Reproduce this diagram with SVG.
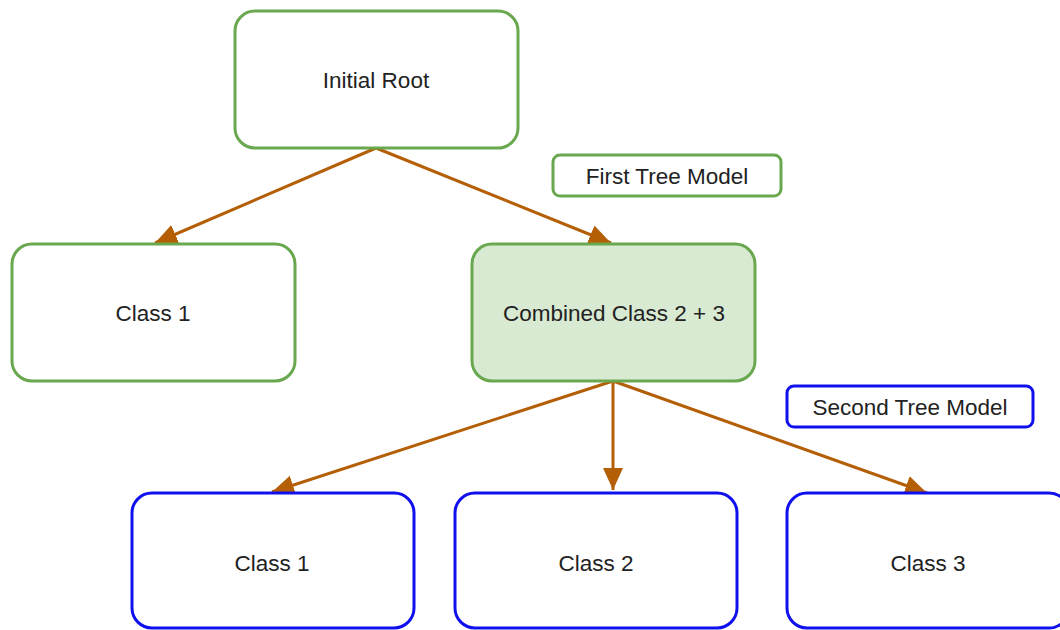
<svg xmlns="http://www.w3.org/2000/svg" width="1060" height="630" viewBox="0 0 1060 630">
<style>
.g{fill:#ffffff;stroke:#6aa84f;stroke-width:3}
.gf{fill:#d9ead3;stroke:#6aa84f;stroke-width:3}
.b{fill:#ffffff;stroke:#1010ee;stroke-width:3}
text{font-family:"Liberation Sans",Arial,sans-serif;font-size:22.5px;fill:#222;text-anchor:middle;dominant-baseline:central}
.c{stroke:#b45f06;stroke-width:3;fill:none;marker-end:url(#ah)}
</style>
<defs>
<marker id="ah" markerUnits="userSpaceOnUse" markerWidth="24" markerHeight="22" refX="22" refY="10" orient="auto">
<path d="M0,0 L22,10 L0,20 Z" fill="#b45f06"/>
</marker>
</defs>
<rect width="1060" height="630" fill="#ffffff"/>
<g id="connectors">
<line class="c" x1="376" y1="148" x2="155" y2="243"/>
<line class="c" x1="376" y1="148" x2="611" y2="243"/>
<line class="c" x1="613" y1="381" x2="272" y2="492"/>
<line class="c" x1="613" y1="381" x2="613" y2="490"/>
<line class="c" x1="613" y1="381" x2="927" y2="493"/>
</g>
<g id="root"><rect class="g" x="235" y="11" width="283" height="137" rx="20"/><text x="376" y="80">Initial Root</text></g>
<g id="class1a"><rect class="g" x="12" y="244" width="283" height="137" rx="20"/><text x="153" y="313">Class 1</text></g>
<g id="combined"><rect class="gf" x="472" y="244" width="283" height="137" rx="20"/><text x="614" y="313">Combined Class 2 + 3</text></g>
<g id="first"><rect class="g" x="553" y="155" width="228" height="41" rx="7"/><text x="667" y="176">First Tree Model</text></g>
<g id="second"><rect class="b" x="787" y="386" width="246" height="41" rx="7"/><text x="910" y="407">Second Tree Model</text></g>
<g id="class1b"><rect class="b" x="132" y="493" width="282" height="135" rx="20"/><text x="272" y="563">Class 1</text></g>
<g id="class2"><rect class="b" x="455" y="493" width="282" height="135" rx="20"/><text x="596" y="563">Class 2</text></g>
<g id="class3"><rect class="b" x="787" y="493" width="282" height="135" rx="20"/><text x="928" y="563">Class 3</text></g>
</svg>
